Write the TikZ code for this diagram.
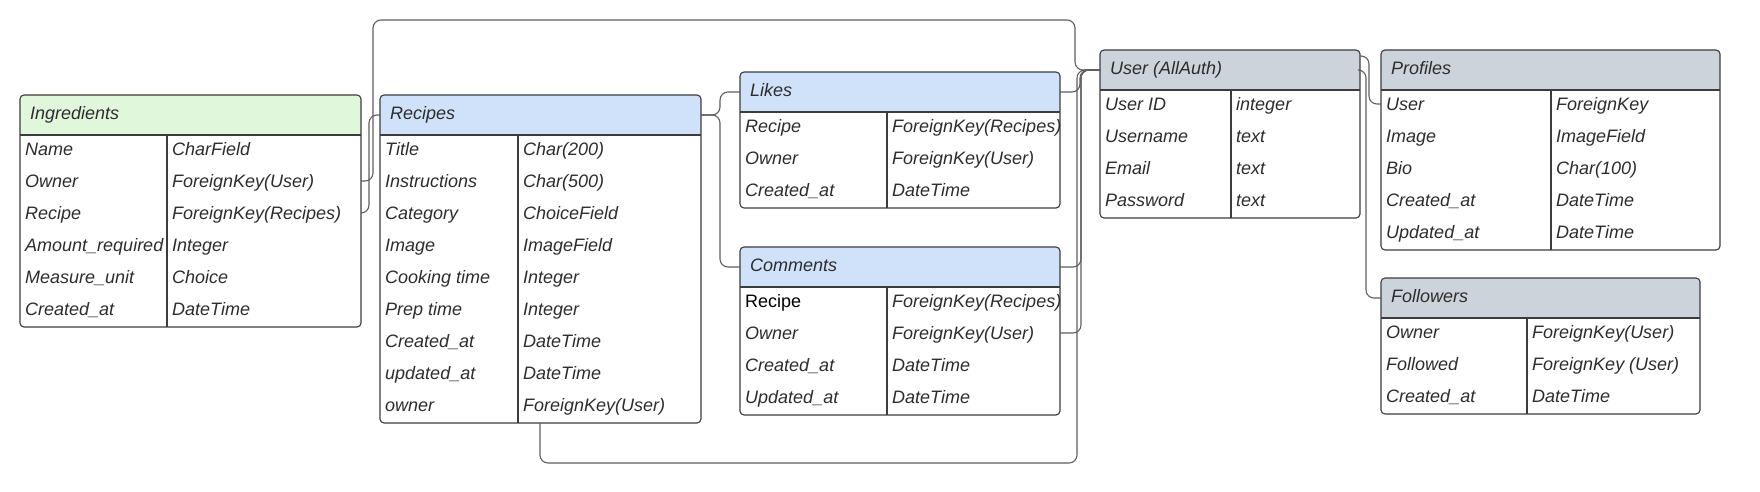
\documentclass[tikz,border=0pt]{standalone}
\usepackage{fontspec}
\setmainfont{Liberation Sans}
\definecolor{hdgreen}{RGB}{225,247,220}
\definecolor{hdblue}{RGB}{207,226,250}
\definecolor{hdgray}{RGB}{205,211,219}
\definecolor{bordcol}{RGB}{60,60,60}
\definecolor{txtcol}{RGB}{45,45,45}
\definecolor{conncol}{RGB}{95,95,95}
\tikzset{
  tablebox/.style={draw=bordcol, line width=1.1pt, rounded corners=4pt, inner sep=0pt, outer sep=0pt},
  tableline/.style={draw=bordcol, line width=1.1pt},
  celltext/.style={anchor=west, inner sep=0pt, text height=12.9pt, text depth=0pt,
    font=\fontsize{18}{21}\selectfont\itshape, text=txtcol},
  conn/.style={draw=conncol, line width=1.1pt, rounded corners=8pt},
}
\newcommand\erdup[1]{{\upshape\color{black}#1}}
% #1 name, #2 left, #3 top, #4 right, #5 divider, #6 header colour, #7 title, #8 rows
\newcommand\erdtable[8]{%
  \foreach \erdk/\erdv [count=\erdc] in {#8} {\xdef\erdrows{\erdc}}%
  \pgfmathsetmacro\erdh{40+32*\erdrows}%
  \pgfmathsetmacro\erdw{#4-#2}%
  \begin{scope}
    \clip[rounded corners=4pt] (#2,#3) rectangle ++(\erdw,\erdh);
    \fill[#6] (#2,#3) rectangle (#4,#3+40);
  \end{scope}
  \node[tablebox, minimum width=\erdw pt, minimum height=\erdh pt, anchor=north west] (#1) at (#2,#3) {};
  \draw[tableline] (#2,#3+40) -- (#4,#3+40);
  \draw[tableline] (#5,#3+40) -- (#5,#3+\erdh);
  \node[celltext] (#1-h) at (#2+10,#3+18.5) {#7};
  \coordinate (#1-hc) at (#2,#3+20);
  \foreach \erdk/\erdv [count=\erdc] in {#8} {%
    \node[celltext] (#1-k\erdc) at (#2+5,#3+22+32*\erdc) {\erdk};
    \node[celltext] (#1-v\erdc) at (#5+5,#3+22+32*\erdc) {\erdv};
  }%
}
\begin{document}
\begin{tikzpicture}[x=1pt, y=-1pt]
\fill[white] (0,0) rectangle (1760,491);
\useasboundingbox (0,0) rectangle (1760,491);

\erdtable{ing}{20}{95}{361}{167}{hdgreen}{Ingredients}{Name/CharField, Owner/ForeignKey(User), Recipe/ForeignKey(Recipes), Amount\_required/Integer, Measure\_unit/Choice, Created\_at/DateTime}
\erdtable{rec}{380}{95}{701}{518}{hdblue}{Recipes}{Title/Char(200), Instructions/Char(500), Category/ChoiceField, Image/ImageField, Cooking time/Integer, Prep time/Integer, Created\_at/DateTime, updated\_at/DateTime, owner/ForeignKey(User)}
\erdtable{likes}{740}{72}{1060}{887}{hdblue}{Likes}{Recipe/ForeignKey(Recipes), Owner/ForeignKey(User), Created\_at/DateTime}
\erdtable{com}{740}{247}{1060}{887}{hdblue}{Comments}{\erdup{Recipe}/ForeignKey(Recipes), Owner/ForeignKey(User), Created\_at/DateTime, Updated\_at/DateTime}
\erdtable{user}{1100}{50}{1360}{1231}{hdgray}{User (AllAuth)}{User ID/integer, Username/text, Email/text, Password/text}
\erdtable{prof}{1381}{50}{1720}{1551}{hdgray}{Profiles}{User/ForeignKey, Image/ImageField, Bio/Char(100), Created\_at/DateTime, Updated\_at/DateTime}
\erdtable{fol}{1381}{278}{1700}{1527}{hdgray}{Followers}{Owner/ForeignKey(User), Followed/ForeignKey (User), Created\_at/DateTime}

% connectors
\draw[conn] (ing.east |- ing-k2) -- (373,181) |- (1075,20) |- (user.west |- user-hc);
\draw[conn] (ing.east |- ing-k3) -- (369,213) |- (rec.west |- rec-hc);
\draw[conn] (rec.east |- rec-hc) -- (720,115) |- (likes.west |- likes-hc);
\draw[conn] (rec.east |- rec-hc) -- (720,115) |- (com.west |- com-hc);
\draw[conn] (likes.east |- likes-hc) -- (1080,92) |- (user.west |- user-hc);
\draw[conn] (com.east |- com-hc) -- (1081,267) |- (user.west |- user-hc);
\draw[conn] (com.east |- com-k2) -- (1081,333) |- (user.west |- user-hc);
\draw[conn] (rec.south -| 540,0) |- (1077,463) |- (user.west |- user-hc);
\draw[conn] (user.east |- 0,56) -- (1369,56) |- (prof.west |- prof-k1);
\draw[conn] (user.east |- 0,70) -- (1366,70) |- (fol.west |- fol-hc);
\end{tikzpicture}
\end{document}
